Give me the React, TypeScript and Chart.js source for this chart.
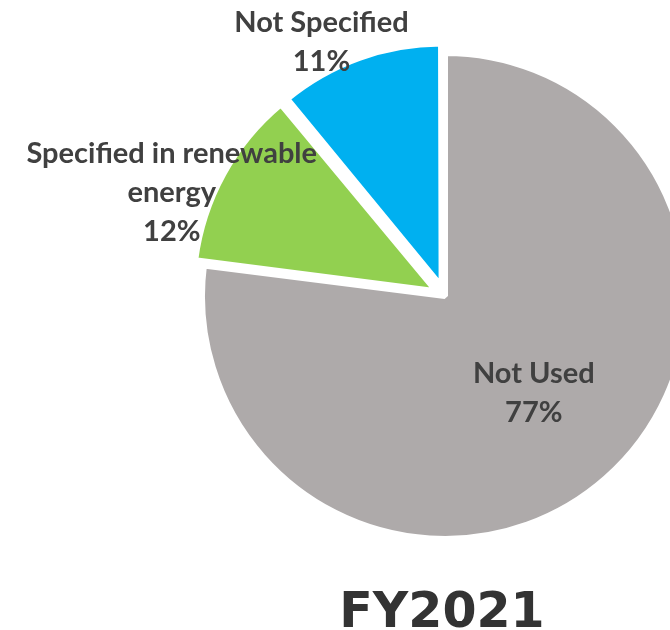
import React, { useEffect, useRef } from 'react';
import { Chart, registerables } from 'chart.js';

Chart.register(...registerables);

// ---- data ----
const categories = ['Not Used', 'Specified in renewable energy', 'Not Specified'];
const labelLines = [['Not Used'], ['Specified in renewable', 'energy'], ['Not Specified']];
const shares = [77, 12, 11];
const sliceColors = ['#AEAAAA', '#92D050', '#00B0F0'];
const explodeOffsets = [0, 40, 40];
const chartTitle = 'FY2021';

// ---- label placement (relative to each slice) ----
const labelRadiusFactor = [0.54, 1.1, 1.1];
const labelShift: [number, number][] = [[2, -1], [-39, 25], [-33, -2]];

const TEXT_COLOR = '#404040';
const LABEL_FONT = 'bold 29px Lato';
const LINE_H = 39;
const PIE_R = 243;

// Chart.js enlarges exploded arcs slightly; keep them at the same radius as the rest.
const radiusFix = {
  id: 'radiusFix',
  afterDatasetsUpdate(chart: any) {
    const meta = chart.getDatasetMeta(0);
    meta.data.forEach((arc: any) => {
      const off = (arc.options && arc.options.offset) || 0;
      if (off) {
        const fix = 1 - Math.sin(Math.min(Math.PI, arc.circumference || 0));
        arc.outerRadius = arc.outerRadius - (off / 4) * fix;
      }
    });
  },
};

const labelPlugin = {
  id: 'sliceLabels',
  afterDatasetsDraw(chart: any) {
    const ctx = chart.ctx;
    const meta = chart.getDatasetMeta(0);
    const R = meta.controller.outerRadius;
    ctx.save();
    ctx.fillStyle = TEXT_COLOR;
    ctx.font = LABEL_FONT;
    ctx.textAlign = 'center';
    ctx.textBaseline = 'middle';
    meta.data.forEach((arc: any, i: number) => {
      const mid = (arc.startAngle + arc.endAngle) / 2;
      const r = R * labelRadiusFactor[i];
      const cx = arc.x + Math.cos(mid) * r + labelShift[i][0];
      const cy = arc.y + Math.sin(mid) * r + labelShift[i][1];
      const lines = [...labelLines[i], shares[i] + '%'];
      lines.forEach((t, j) => {
        ctx.fillText(t, cx, cy + (j - (lines.length - 1) / 2) * LINE_H);
      });
    });
    // title under the pie
    const area = chart.chartArea;
    ctx.font = 'bold 49px "DejaVu Sans"';
    ctx.textBaseline = 'alphabetic';
    ctx.fillStyle = '#333333';
    ctx.fillText(chartTitle, (area.left + area.right) / 2 - 3, chart.height - 3);
    ctx.restore();
  },
};

export default function App() {
  const ref = useRef<HTMLCanvasElement | null>(null);
  useEffect(() => {
    if (!ref.current) return;
    const chart = new Chart(ref.current, {
      type: 'pie',
      data: {
        labels: categories,
        datasets: [
          {
            data: shares,
            backgroundColor: sliceColors,
            borderColor: '#FFFFFF',
            borderWidth: 6,
            offset: explodeOffsets,
            hoverOffset: 0,
          },
        ],
      },
      options: {
        responsive: false,
        animation: false,
        devicePixelRatio: 1,
        events: [],
        radius: PIE_R,
        layout: { padding: { left: 220, right: 0, top: 0, bottom: 38 } },
        plugins: {
          legend: { display: false },
          tooltip: { enabled: false },
          title: { display: false },
        },
      } as any,
      plugins: [radiusFix, labelPlugin],
    });
    return () => chart.destroy();
  }, []);
  return (
    <div style={{ position: 'fixed', left: 0, top: 0, width: 670, height: 630, background: '#fff' }}>
      <canvas ref={ref} width={670} height={630} style={{ display: 'block' }} />
    </div>
  );
}
